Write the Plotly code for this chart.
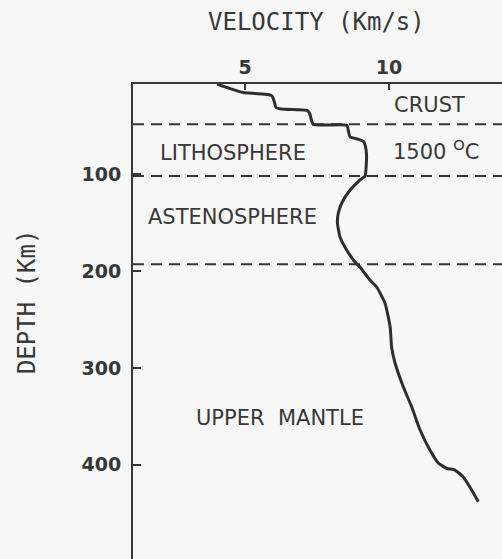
import plotly.graph_objects as go

# Seismic velocity profile of the upper Earth
velocity_km_s = [4.03, 4.48, 4.93, 5.35, 5.80, 5.94, 6.01, 6.08, 6.25, 6.81, 7.15, 7.24,
                 7.32, 7.37, 7.85, 8.54, 8.59, 8.65, 8.89, 9.11, 9.18, 9.22, 9.21, 9.17,
                 8.99, 8.65, 8.36, 8.24, 8.21, 8.30, 8.53, 8.82, 8.99, 9.34, 9.57, 9.86,
                 10.04, 10.09, 10.21, 10.50, 10.79, 11.08, 11.42, 11.71, 12.00, 12.29,
                 12.58, 12.87, 13.10]
depth_km = [7.0, 11.7, 15.8, 16.8, 17.9, 19.4, 24.6, 31.3, 32.8, 33.5, 34.2, 36.9,
            45.7, 48.8, 49.3, 49.8, 55.5, 61.7, 63.6, 66.2, 71.0, 80.3, 90.6, 102.0,
            106.1, 116.4, 129.8, 140.1, 150.5, 164.9, 178.3, 190.7, 195.9, 209.3, 216.5,
            233.0, 257.8, 278.4, 294.9, 319.7, 340.4, 364.1, 384.7, 398.1, 403.6, 405.4,
            412.6, 426.0, 438.1]

# Layer boundaries (km)
boundary_depths = [48.5, 102, 193]

# Layer labels and their positions (velocity, depth)
layer_names = ["CRUST", "LITHOSPHERE", "1500 <sup>O</sup>C", "ASTENOSPHERE",
               "UPPER\u00a0\u00a0MANTLE"]
layer_label_v = [11.42, 4.58, 11.62, 4.55, 6.21]
layer_label_d = [28.7, 78.2, 75.5, 144.3, 351.7]

x_ticks = [5, 10]
y_ticks = [100, 200, 300, 400]

INK = "#383838"
LABEL_FONT = "DejaVu Sans"
TITLE_FONT = "DejaVu Sans Mono"

fig = go.Figure()

fig.add_trace(go.Scatter(
    x=velocity_km_s, y=depth_km, mode="lines",
    line=dict(color="#2e2e2e", width=3, shape="spline", smoothing=0.5),
    hoverinfo="skip", showlegend=False,
))

for d in boundary_depths:
    fig.add_shape(type="line", xref="paper", x0=0, x1=1, yref="y", y0=d, y1=d,
                  line=dict(color="#353535", width=2, dash="11px,7px"), layer="below")

for name, v, d in zip(layer_names, layer_label_v, layer_label_d):
    fig.add_annotation(x=v, y=d, xref="x", yref="y", text=name, showarrow=False,
                       font=dict(family=LABEL_FONT, size=21, color=INK),
                       xanchor="center", yanchor="middle")

# Axis titles
fig.add_annotation(x=0.496, y=1.1305, xref="paper", yref="paper",
                   text="VELOCITY (Km/s)", showarrow=False,
                   font=dict(family=TITLE_FONT, size=24, color=INK),
                   xanchor="center", yanchor="middle")
fig.add_annotation(x=-0.287, y=0.541, xref="paper", yref="paper",
                   text="DEPTH (Km)", showarrow=False, textangle=-90,
                   font=dict(family=TITLE_FONT, size=24, color=INK),
                   xanchor="center", yanchor="middle")

fig.update_layout(
    width=502, height=559,
    margin=dict(l=133, r=0, t=84, b=0, pad=0),
    paper_bgcolor="#f7f7f7", plot_bgcolor="#f7f7f7",
    showlegend=False,
    xaxis=dict(side="top", range=[1.111, 13.924], tickvals=x_ticks,
               ticks="inside", ticklen=6, tickwidth=2, tickcolor=INK,
               showline=True, linecolor=INK, linewidth=2, mirror=False,
               showgrid=False, zeroline=False, ticklabelstandoff=0,
               tickfont=dict(family=LABEL_FONT, size=19, color=INK, weight="bold")),
    yaxis=dict(range=[497.2, 7], tickvals=y_ticks,
               ticks="inside", ticklen=8, tickwidth=2, tickcolor=INK,
               showline=True, linecolor=INK, linewidth=2, mirror=False,
               showgrid=False, zeroline=False, ticklabelstandoff=6,
               tickfont=dict(family=LABEL_FONT, size=19, color=INK, weight="bold")),
)

fig.write_html("out.html")
